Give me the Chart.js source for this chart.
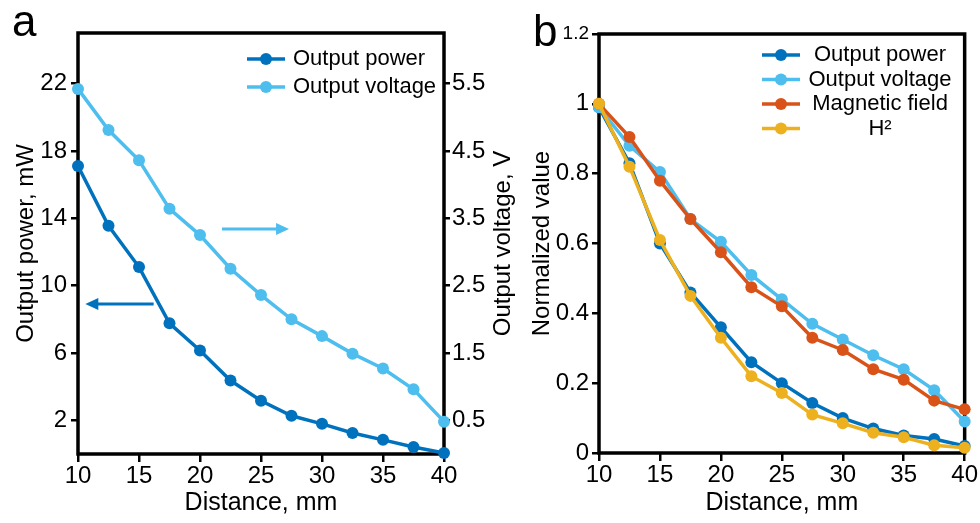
<!DOCTYPE html>
<html>
<head>
<meta charset="utf-8">
<script src="https://cdn.jsdelivr.net/npm/chart.js@4.4.1/dist/chart.umd.min.js"></script>
<style>
  body { margin: 0; background: #fff; }
  #wrap { position: relative; width: 980px; height: 523px; overflow: hidden; }
  #chart-a { position: absolute; left: 0; top: 0; }
  #chart-b { position: absolute; left: 520px; top: 0; }
</style>
</head>
<body>
<div id="wrap">
  <canvas id="chart-a" width="520" height="523"></canvas>
  <canvas id="chart-b" width="460" height="523"></canvas>
</div>
<script>
// distance between magnet and harvester (mm)
const distance = [10, 12.5, 15, 17.5, 20, 22.5, 25, 27.5, 30, 32.5, 35, 37.5, 40];

// panel a
const powerMW = [17.1, 13.55, 11.1, 7.76, 6.15, 4.36, 3.16, 2.27, 1.79, 1.25, 0.84, 0.42, 0.06];
const voltageV = [5.42, 4.81, 4.36, 3.64, 3.25, 2.75, 2.36, 2.0, 1.75, 1.49, 1.27, 0.96, 0.48];

// panel b (normalized)
const normPower = [0.99, 0.83, 0.6, 0.46, 0.36, 0.26, 0.2, 0.143, 0.1, 0.07, 0.05, 0.04, 0.02];
const normVoltage = [0.99, 0.88, 0.805, 0.67, 0.605, 0.51, 0.44, 0.37, 0.325, 0.28, 0.24, 0.18, 0.09];
const normField = [1.0, 0.905, 0.78, 0.67, 0.575, 0.475, 0.42, 0.33, 0.295, 0.24, 0.21, 0.15, 0.125];
const normH2 = [1.0, 0.82, 0.61, 0.45, 0.33, 0.22, 0.172, 0.11, 0.085, 0.058, 0.045, 0.022, 0.015];

// ticks
const distanceTicks = [10, 15, 20, 25, 30, 35, 40];
const powerTicks = [2, 6, 10, 14, 18, 22];
const voltageTicks = [0.5, 1.5, 2.5, 3.5, 4.5, 5.5];
const normTicks = [0, 0.2, 0.4, 0.6, 0.8, 1, 1.2];

const FONT = "'Liberation Sans', Arial, Helvetica, sans-serif";
const C_POWER = "#0072BD";
const C_VOLT = "#4DBEEE";
const C_FIELD = "#D95319";
const C_H2 = "#EDB120";

function pts(ys) {
  return distance.map((x, i) => ({ x: x, y: ys[i] }));
}

function serie(label, ys, color, axis, order) {
  return {
    label: label,
    data: pts(ys),
    borderColor: color,
    backgroundColor: color,
    pointBackgroundColor: color,
    pointBorderColor: color,
    borderWidth: 3.5,
    pointRadius: 6,
    pointBorderWidth: 0,
    yAxisID: axis,
    order: order,
    clip: false
  };
}

function fixTicks(list) {
  return scale => { scale.ticks = list.map(v => ({ value: v })); };
}

const tickGrid = { drawOnChartArea: false, color: "#000", lineWidth: 2.5, tickLength: 8 };

const decor = {
  id: "decor",
  beforeDatasetsDraw(chart, args, o) {
    const { ctx, chartArea: a } = chart;
    ctx.save();
    ctx.strokeStyle = "#000";
    ctx.lineWidth = 3.5;
    ctx.strokeRect(a.left, a.top, a.right - a.left, a.bottom - a.top);
    ctx.restore();
  },
  afterDraw(chart, args, o) {
    const ctx = chart.ctx;
    ctx.save();
    ctx.fillStyle = "#000";
    ctx.font = "44px " + FONT;
    ctx.textBaseline = "alphabetic";
    ctx.textAlign = "left";
    ctx.fillText(o.letter, o.letterX, o.letterY);

    if (o.sideTitle) {
      ctx.save();
      const a = chart.chartArea;
      ctx.translate(o.sideTitleX, (a.top + a.bottom) / 2);
      ctx.rotate(-Math.PI / 2);
      ctx.font = "24px " + FONT;
      ctx.textAlign = "center";
      ctx.textBaseline = "middle";
      ctx.fillText(o.sideTitle, 0, 0);
      ctx.restore();
    }

    (o.arrows || []).forEach(ar => {
      const xs = chart.scales.x, ys = chart.scales[ar.axis];
      const x0 = xs.getPixelForValue(ar.from[0]), y0 = ys.getPixelForValue(ar.from[1]);
      const x1 = xs.getPixelForValue(ar.to[0]), y1 = ys.getPixelForValue(ar.to[1]);
      const dir = Math.sign(x1 - x0);
      ctx.strokeStyle = ar.color;
      ctx.fillStyle = ar.color;
      ctx.lineWidth = 3;
      ctx.beginPath();
      ctx.moveTo(x0, y0);
      ctx.lineTo(x1 - dir * 10, y1);
      ctx.stroke();
      ctx.beginPath();
      ctx.moveTo(x1, y1);
      ctx.lineTo(x1 - dir * 13, y1 - 6);
      ctx.lineTo(x1 - dir * 13, y1 + 6);
      ctx.closePath();
      ctx.fill();
    });

    const lg = o.legend;
    chart.data.datasets.forEach((ds, i) => {
      const y = lg.y + i * lg.step;
      ctx.strokeStyle = ds.borderColor;
      ctx.fillStyle = ds.borderColor;
      ctx.lineWidth = 3.5;
      ctx.beginPath();
      ctx.moveTo(lg.x0, y);
      ctx.lineTo(lg.x1, y);
      ctx.stroke();
      ctx.beginPath();
      ctx.arc((lg.x0 + lg.x1) / 2, y, 6, 0, Math.PI * 2);
      ctx.fill();
      ctx.fillStyle = "#000";
      ctx.font = "22px " + FONT;
      ctx.textAlign = lg.align;
      ctx.textBaseline = "middle";
      ctx.fillText(ds.label, lg.tx, y);
    });
    ctx.restore();
  }
};

// ---------- panel a ----------
new Chart(document.getElementById("chart-a"), {
  type: "line",
  data: {
    datasets: [
      serie("Output power", powerMW, C_POWER, "y", 2),
      serie("Output voltage", voltageV, C_VOLT, "y1", 1)
    ]
  },
  options: {
    responsive: false,
    animation: false,
    layout: { padding: { top: 33, left: 8, right: 0, bottom: 0 } },
    scales: {
      x: {
        type: "linear",
        min: 10, max: 40,
        afterBuildTicks: fixTicks(distanceTicks),
        afterFit: s => { s.height = 69; },
        border: { display: false },
        grid: tickGrid,
        ticks: { font: { family: FONT, size: 24, lineHeight: 1 }, color: "#000", padding: 2, maxRotation: 0 },
        title: { display: true, text: "Distance, mm", color: "#000", font: { family: FONT, size: 25 }, padding: { top: 0, bottom: 5 } }
      },
      y: {
        position: "left",
        min: 0, max: 25,
        afterBuildTicks: fixTicks(powerTicks),
        afterFit: s => { s.width = 70; },
        border: { display: false },
        grid: Object.assign({}, tickGrid, { tickLength: 7 }),
        ticks: { font: { family: FONT, size: 24 }, color: "#000", padding: 4, callback: v => String(v) },
        title: { display: true, text: "Output power, mW", color: "#000", font: { family: FONT, size: 24 } }
      },
      y1: {
        position: "right",
        min: 0, max: 6.25,
        afterBuildTicks: fixTicks(voltageTicks),
        afterFit: s => { s.width = 76; },
        border: { display: false },
        grid: Object.assign({}, tickGrid, { tickLength: 6 }),
        ticks: { font: { family: FONT, size: 24 }, color: "#000", padding: 2, callback: v => v.toFixed(1) }
      }
    },
    plugins: {
      legend: { display: false },
      tooltip: { enabled: false },
      decor: {
        letter: "a", letterX: 12, letterY: 36,
        sideTitle: "Output voltage, V", sideTitleX: 503,
        arrows: [
          { axis: "y1", from: [21.8, 3.34], to: [27.3, 3.34], color: C_VOLT },
          { axis: "y", from: [16.2, 8.9], to: [10.6, 8.9], color: C_POWER }
        ],
        legend: { x0: 247, x1: 285, tx: 293, align: "left", y: 59, step: 28 }
      }
    }
  },
  plugins: [decor]
});

// ---------- panel b ----------
new Chart(document.getElementById("chart-b"), {
  type: "line",
  data: {
    datasets: [
      serie("Output power", normPower, C_POWER, "y", 4),
      serie("Output voltage", normVoltage, C_VOLT, "y", 3),
      serie("Magnetic field", normField, C_FIELD, "y", 2),
      serie("H\u00B2", normH2, C_H2, "y", 1)
    ]
  },
  options: {
    responsive: false,
    animation: false,
    layout: { padding: { top: 34, left: 4, right: 12, bottom: 0 } },
    scales: {
      x: {
        type: "linear",
        min: 10, max: 40,
        afterBuildTicks: fixTicks(distanceTicks),
        afterFit: s => { s.height = 70; },
        border: { display: false },
        grid: tickGrid,
        ticks: { font: { family: FONT, size: 24, lineHeight: 1 }, color: "#000", padding: 2, maxRotation: 0 },
        title: { display: true, text: "Distance, mm", color: "#000", font: { family: FONT, size: 25 }, padding: { top: 0, bottom: 5 } }
      },
      y: {
        position: "left",
        min: 0, max: 1.2,
        afterBuildTicks: fixTicks(normTicks),
        afterFit: s => { s.width = 75; },
        border: { display: false },
        grid: Object.assign({}, tickGrid, { tickLength: 7 }),
        ticks: {
          font: c => ({ family: FONT, size: c.tick && c.tick.value === 1.2 ? 19 : 24 }),
          color: "#000", padding: 3, callback: v => String(v)
        },
        title: { display: true, text: "Normalized value", color: "#000", font: { family: FONT, size: 24 } }
      }
    },
    plugins: {
      legend: { display: false },
      tooltip: { enabled: false },
      decor: {
        letter: "b", letterX: 13, letterY: 46,
        legend: { x0: 242, x1: 280, tx: 360, align: "center", y: 55, step: 24.5 }
      }
    }
  },
  plugins: [decor]
});
</script>
</body>
</html>
